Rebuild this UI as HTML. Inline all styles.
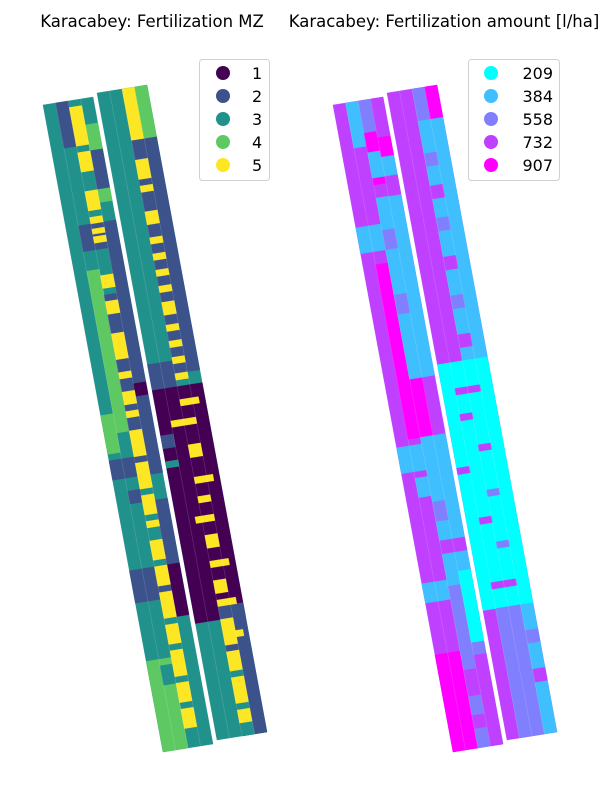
<!DOCTYPE html>
<html><head><meta charset="utf-8"><style>
body{margin:0;background:#fff;}
svg{display:block;font-family:"DejaVu Sans","Liberation Sans",sans-serif;}
</style></head><body>
<svg id="chart" width="600" height="800" viewBox="0 0 600 800">
<text x="152" y="27" font-size="16.5" text-anchor="middle">Karacabey: Fertilization MZ</text>
<text x="444" y="27" font-size="16.5" text-anchor="middle">Karacabey: Fertilization amount [l/ha]</text>
<g id="maps"></g>
<g>
<rect x="199.5" y="59.5" width="70" height="121" rx="3" fill="#fff" fill-opacity="0.8" stroke="#d0d0d0"/>
<g id="legL"></g></g>
<g>
<rect x="468.5" y="59.5" width="91" height="121" rx="3" fill="#fff" fill-opacity="0.8" stroke="#d0d0d0"/>
<g id="legR"></g></g>
</svg>
<script>
const mzCategories=["1","2","3","4","5"];
const mzColors=["#440154","#3b528b","#21918c","#5ec962","#fde725"];
const amtCategories=["209","384","558","732","907"];
const amtColors=["#00ffff","#40bfff","#8080ff","#bf40ff","#ff00ff"];

// blocks: [vStart, vEnd, laneStart, laneEnd, categoryIndex] (v = % along strip, lanes 0..4)
const mzStripA=[
[0,100,0,4,2],[0,7,1,2,1],[19,23,1,4,1],[26,51,1,2,3],[48,54,0,1,3],[55,58,0,4,1],[60,62,1,2,1],[72,77,0,2,1],[86,100,0,2,3],[87,90,1,2,2],
[30,56,2,3,1],[72,80,2,3,1],[4,8,3,4,3],[8,14,3,4,1],[14,16,3,4,3],[23,44,3,4,1],[44,46,3,4,0],[46,58,3,4,1],[62,72,3,4,1],[72,80,3,4,0],
[1,7,2,3,4],[8,11,2,3,4],[14,17,2,3,4],[18,19,2,3,4],[19.8,20.6,2,3,4],[21,22,2,3,4],[27,29,2,3,4],[31,33,2,3,4],[36,40,2,3,4],[42,43,2,3,4],[45,47,2,3,4],[48,49,2,3,4],[51,55,2,3,4],[56,60,2,3,4],[61,64,2,3,4],[65,66,2,3,4],[68,71,2,3,4],[72,75,2,3,4],[76,80,2,3,4],[81,84,2,3,4],[85,89,2,3,4],[90,93,2,3,4],[94,97,2,3,4]
];
const mzStripB=[
[0,100,0,4,2],[0,8,2,3,4],[0,9,3,4,3],[8,44,2,4,1],[42,46,0,2,1],[46,82,0,4,0],[53,55,0,1,1],[57,58,0,1,2],[80,100,2,4,1],[88,100,2,3,2],
[11,14,2,3,4],[15,16,2,3,4],[19,21,2,3,4],[23,24,2,3,4],[25.5,26.5,2,3,4],[28,29,2,3,4],[30.5,31.5,2,3,4],[33,35,2,3,4],[36.5,37.5,2,3,4],[39,40,2,3,4],[41.5,42.5,2,3,4],[44,45,2,3,4],[48,49,2,3.5,4],[51,52,1,3,4],[55,57,2,3,4],[60,61,2,3.5,4],[63,64,2,3,4],[66,67,1.5,3,4],[69,71,2,3,4],[73,74,2,3.5,4],[76,78,2,3,4],[79,80,2,3.5,4],
[82,86,2,3,4],[87,90,2,3,4],[91,95,2,3,4],[96,98,2,3,4],[84,85,3,3.6,4]
];
const amtStripA=[
[0,100,0,4,3],[0,7,1,2,1],[19,23,0,2,1],[53,57,0,2,1],[58,61,1,2,1],[74,77,0,2,1],[85,100,0,2,4],[25,52,1,2,4],[43,52,2,3,4],
[0,5,2,3,2],[5,8,2,3,4],[8,12,2,3,1],[12,13,2,3,4],[15,43,2,4,1],[52,75,2,4,1],[75,100,2,4,2],[86,100,3,4,3],[0,6,3,4,3],[6,9,3,4,4],[9,12,3,4,1],[12,15,3,4,3],[73,84,3,4,0],
[20,23,2,3,2],[30,33,2,3,2],[62,65,2,3,2],[68,70,2,4,3],[88,92,2,3,3],[95,97,2,3,3]
];
const amtStripB=[
[0,100,0,4,3],[0,5,2,3,2],[0,5,3,4,4],[5,42,2,4,1],[42,80,0,4,0],[80,100,1,2,2],[80,100,2,3,2],[80,100,3,4,1],
[10,12,2,3,2],[15,17,2,3,3],[20,22,2,3,2],[26,28,2,3,3],[32,34,2,3,2],[38,40,2,3,3],[46,47,1,3,3],[50,51,1,2,3],[55,56,2,3,3],[58,59,0,1,3],[62,63,2,3,2],[66,67,1,2,3],[70,71,2,3,2],[76,77,1,3,3],[84,86,3,4,2],[90,92,3,4,3]
];

const NS="http://www.w3.org/2000/svg";
function strip(parent,name,TL,TR,BL,blocks,colors){
  const g=document.createElementNS(NS,"g");
  
  
  parent.appendChild(g);
  const pt=(u,v)=>[TL[0]+u/4*(TR[0]-TL[0])+v/100*(BL[0]-TL[0]),TL[1]+u/4*(TR[1]-TL[1])+v/100*(BL[1]-TL[1])];
  blocks.forEach(b=>{
    const p=document.createElementNS(NS,"polygon");
    const ps=[pt(b[2],b[0]),pt(b[3],b[0]),pt(b[3],b[1]),pt(b[2],b[1])];
    p.setAttribute("points",ps.map(q=>q[0].toFixed(1)+","+q[1].toFixed(1)).join(" "));
    p.setAttribute("fill",colors[b[4]]);
    p.setAttribute("stroke",colors[b[4]]);
    p.setAttribute("stroke-width","0.4");
    
    
    g.appendChild(p);
  });
  for(let l=1;l<4;l++){
    const a=pt(l,0),c=pt(l,100);
    const ln=document.createElementNS(NS,"line");
    ln.setAttribute("x1",a[0]);ln.setAttribute("y1",a[1]);ln.setAttribute("x2",c[0]);ln.setAttribute("y2",c[1]);
    ln.setAttribute("stroke","#fff");ln.setAttribute("stroke-opacity","0.15");ln.setAttribute("stroke-width","0.8");
    
    
    g.appendChild(ln);
  }
}
const maps=document.getElementById("maps");
strip(maps,"mz-strip-a",[43,105],[93,97],[163,752],mzStripA,mzColors);
strip(maps,"mz-strip-b",[97,93],[147,85],[217,740],mzStripB,mzColors);
strip(maps,"amount-strip-a",[333,105],[383,97],[453,752],amtStripA,amtColors);
strip(maps,"amount-strip-b",[387,93],[437,85],[507,740],amtStripB,amtColors);

function legend(id,cats,colors,mx,tx,anchor){
  const g=document.getElementById(id);
  cats.forEach((c,i)=>{
    const y=73+i*23;
    const e=document.createElementNS(NS,"g");
    
    
    const ci=document.createElementNS(NS,"circle");
    ci.setAttribute("cx",mx);ci.setAttribute("cy",y);ci.setAttribute("r",7);ci.setAttribute("fill",colors[i]);
    const t=document.createElementNS(NS,"text");
    t.setAttribute("x",tx);t.setAttribute("y",y+6);t.setAttribute("font-size","16");t.setAttribute("text-anchor",anchor);
    t.textContent=c;
    e.appendChild(ci);e.appendChild(t);g.appendChild(e);
  });
}
legend("legL",mzCategories,mzColors,223,252,"start");
legend("legR",amtCategories,amtColors,491,553,"end");
</script>
</body></html>
